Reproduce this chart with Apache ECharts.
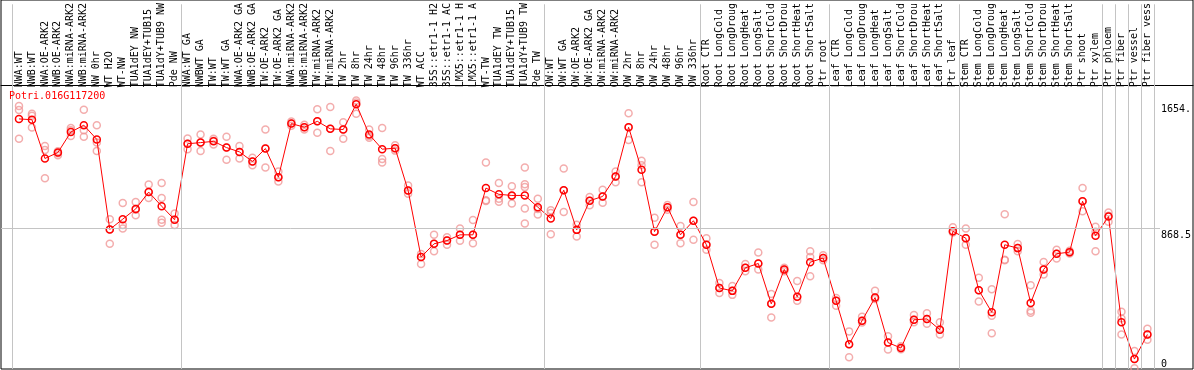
<!DOCTYPE html>
<html><head><meta charset="utf-8">
<script src="https://cdn.jsdelivr.net/npm/echarts@6/dist/echarts.min.js"></script>
<style>html,body{margin:0;padding:0;background:#fff}#c{width:1194px;height:370px}</style>
</head><body><div id="c"></div>
<script>
const geneId = 'Potri.016G117200';
const categories = ["NWA:WT","NWB:WT","NWA:OE-ARK2","NWB:OE-ARK2","NWA:miRNA-ARK2","NWB:miRNA-ARK2","NW 0hr","WT H2O","WT-NW","TUA1dEY NW","TUA1dEY+TUB15","TUA1dY+TUB9 NW","Pde NW","NWA:WT GA","NWBWT GA","TW:WT","TW:WT GA","NWA:OE-ARK2 GA","NWB:OE-ARK2 GA","TW:OE-ARK2","TW:OE-ARK2 GA","NWA:miRNA-ARK2","NWB:miRNA-ARK2","TW:miRNA-ARK2","TW:miRNA-ARK2","TW 2hr","TW 8hr","TW 24hr","TW 48hr","TW 96hr","TW 336hr","WT ACC","35S::etr1-1 H2","35S::etr1-1 AC","LMX5::etr1-1 H","LMX5::etr1-1 A","WT-TW","TUA1dEY TW","TUA1dEY+TUB15","TUA1dY+TUB9 TW","Pde TW","OW:WT","OW:WT GA","OW:OE-ARK2","OW:OE-ARK2 GA","OW:miRNA-ARK2","OW:miRNA-ARK2","OW 2hr","OW 8hr","OW 24hr","OW 48hr","OW 96hr","OW 336hr","Root CTR","Root LongCold","Root LongDroug","Root LongHeat","Root LongSalt","Root ShortCold","Root ShortDrou","Root ShortHeat","Root ShortSalt","Ptr root","Leaf CTR","Leaf LongCold","Leaf LongDroug","Leaf LongHeat","Leaf LongSalt","Leaf ShortCold","Leaf ShortDrou","Leaf ShortHeat","Leaf ShortSalt","Ptr leaf","Stem CTR","Stem LongCold","Stem LongDroug","Stem LongHeat","Stem LongSalt","Stem ShortCold","Stem ShortDrou","Stem ShortHeat","Stem ShortSalt","Ptr shoot","Ptr xylem","Ptr phloem","Ptr fiber","Ptr vessel","Ptr fiber vess"];
const means = [1562,1557,1315,1352,1480,1523,1434,872,936,1000,1105,1017,932,1407,1414,1422,1383,1356,1296,1377,1198,1533,1510,1547,1500,1496,1654,1465,1373,1379,1115,699,782,802,838,838,1130,1091,1084,1084,1011,940,1117,869,1051,1078,1202,1510,1245,858,1011,838,926,776,506,488,632,659,407,622,451,667,693,426,154,302,446,165,131,307,313,245,860,817,492,354,776,755,412,622,720,730,1048,833,952,292,62,216];
const replicates = [[1642,1617,1438],[1594,1582,1508],[1393,1368,1191],[1360,1347,1335],[1506,1492,1455],[1619,1492,1451],[1523,1414,1362],[936,872,782],[1037,899,878],[1043,994,961],[1152,1105,1068],[1162,1068,932,914],[971,932,899],[1440,1407,1372],[1465,1414,1362],[1438,1403,1426],[1451,1383,1307],[1393,1356,1315],[1319,1296,1273],[1496,1377,1259],[1233,1198,1171],[1546,1533,1519],[1525,1496,1510],[1623,1547,1475],[1636,1500,1362],[1541,1496,1438],[1677,1665,1594],[1496,1455,1444],[1506,1311,1290],[1397,1379,1364],[1146,1115,1094],[718,699,656],[838,782,735],[823,802,776],[878,838,801],[930,838,786],[1290,1054,1049],[1162,1064,1045],[1142,1080,1033],[1259,1154,1136,1002,909],[1064,1000,965],[992,975,841],[1253,1117,981],[901,869,827],[1074,1051,1023],[1119,1078,1039],[1233,1202,1167],[1597,1510,1430],[1301,1272,1167],[944,858,776],[1025,1011,994],[893,838,786],[1043,926,807],[817,776,745],[537,506,475],[519,488,463],[656,632,611],[727,659,622],[469,407,321],[632,622,611],[549,451,426],[735,699,580],[710,693,679],[444,426,395],[235,154,74],[327,302,290],[488,446,438],[204,165,122],[142,131,123],[338,307,292],[348,313,282],[292,245,216],[885,860,852],[878,817,776],[570,492,422],[498,333,224],[967,683,679],[780,755,735],[523,364,352],[669,622,591],[745,720,690],[739,730,722],[1130,1048,986],[889,858,735],[977,957,920],[358,315,216],[113,62,4],[251,216,183]];
const yTickValues = [0, 868.5, 1654];
const yTickLabels = ["0", "868.5", "1654."];
const groupStarts = [0,13,41,53,63,73,84,85,86,87,88];
const refLineValue = 868.5;

const FONT = 'DejaVu Sans Mono';
const YMAX = 2278;
const repPoints = [];
replicates.forEach((arr, i) => arr.forEach(v => repPoints.push([i, v])));
const fmtY = v => { const k = yTickValues.indexOf(v); return k >= 0 ? yTickLabels[k] : ''; };
const gridStyle = {color: '#c4c4c4', width: 1, type: 'solid'};

const chart = echarts.init(document.getElementById('c'), null, {renderer: 'canvas'});
chart.setOption({
  animation: false,
  title: {text: geneId, left: 9, top: 91, padding: 0,
    textStyle: {color: '#ff0000', fontFamily: FONT, fontSize: 10, fontWeight: 'normal'}},
  grid: [
    {left: 12.5, right: 38.3, top: 0, height: 369},
    {left: 1, right: 1, top: 0, height: 369, show: true, borderColor: '#000', borderWidth: 1, backgroundColor: 'transparent'},
    {left: 1, right: 34, top: 0, height: 369}
  ],
  xAxis: [
    {type: 'category', gridIndex: 0, data: categories, position: 'top', offset: -85,
      axisLine: {show: false}, axisTick: {show: false}, splitLine: {show: false},
      axisLabel: {interval: 0, rotate: 90, margin: 2, padding: [4, 0, 0, 0], fontFamily: FONT, fontSize: 10, color: '#000', hideOverlap: false}},
    {type: 'value', gridIndex: 0, min: -0.5, max: categories.length - 0.5, show: false, position: 'bottom'},
    {type: 'value', gridIndex: 1, min: 0, max: 1, position: 'top', offset: -85,
      axisLine: {show: true, onZero: false, lineStyle: {color: '#000', width: 1}}, axisTick: {show: false},
      axisLabel: {show: false}, splitLine: {show: false}},
    {type: 'value', gridIndex: 2, min: 0, max: 1, show: false}
  ],
  yAxis: [
    {type: 'value', gridIndex: 0, min: 0, max: YMAX, position: 'right',
      axisLine: {show: false}, axisTick: {show: false}, splitLine: {show: false},
      axisLabel: {customValues: [yTickValues[1], yTickValues[2]], formatter: fmtY, verticalAlign: 'top',
        margin: 7, fontFamily: FONT, fontSize: 10, color: '#000'}},
    {type: 'value', gridIndex: 0, min: 0, max: YMAX, position: 'right',
      axisLine: {show: false}, axisTick: {show: false}, splitLine: {show: false},
      axisLabel: {customValues: [yTickValues[0]], formatter: fmtY, verticalAlign: 'bottom',
        margin: 7, fontFamily: FONT, fontSize: 10, color: '#000'}},
    {type: 'value', gridIndex: 1, min: 0, max: 1, show: false},
    {type: 'value', gridIndex: 2, min: 0, max: YMAX, show: false}
  ],
  series: [
    {type: 'line', xAxisIndex: 1, yAxisIndex: 0, data: [], z: 1, silent: true,
      markLine: {silent: true, symbol: ['none', 'none'], label: {show: false}, lineStyle: gridStyle,
        data: groupStarts.map(s => ({xAxis: s - 0.5}))}},
    {type: 'line', xAxisIndex: 3, yAxisIndex: 3, data: [], z: 1, silent: true,
      markLine: {silent: true, symbol: ['none', 'none'], label: {show: false}, lineStyle: gridStyle,
        data: [{yAxis: refLineValue}]}},
    {type: 'scatter', xAxisIndex: 0, yAxisIndex: 0, data: repPoints, symbol: 'circle', symbolSize: 7, z: 3,
      itemStyle: {color: 'rgba(0,0,0,0)', borderColor: '#f09898', borderWidth: 1.5}},
    {type: 'line', xAxisIndex: 0, yAxisIndex: 0, data: means, symbol: 'circle', symbolSize: 7, showAllSymbol: true, z: 4,
      lineStyle: {color: '#ff0000', width: 1},
      itemStyle: {color: 'rgba(0,0,0,0)', borderColor: '#ff0000', borderWidth: 1.5}}
  ]
});
</script></body></html>
